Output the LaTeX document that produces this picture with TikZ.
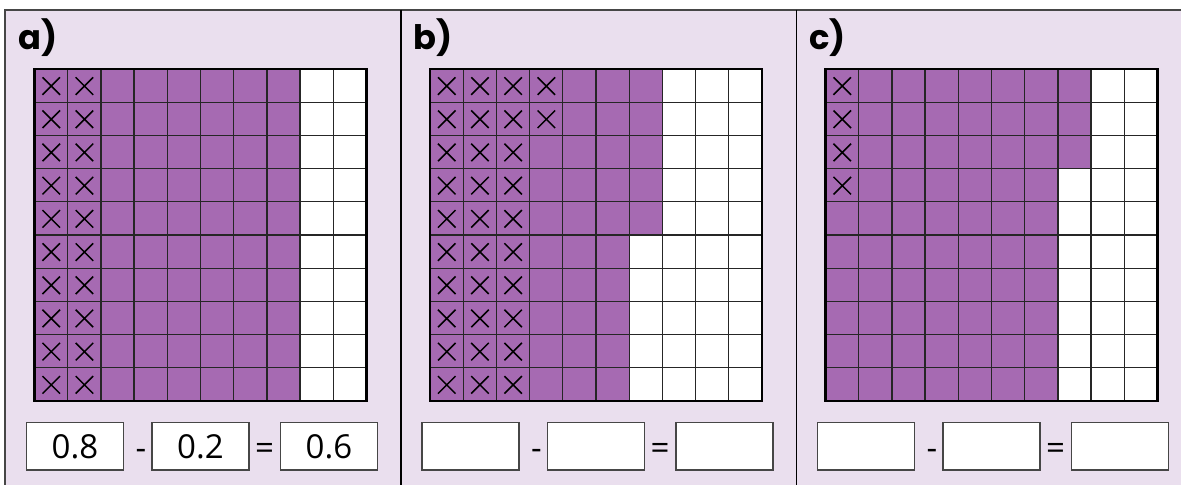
\documentclass[tikz,border=0pt]{standalone}
\usepackage{fontspec}
\setmainfont{Open Sans}
\newfontfamily\partfont{Poppins}
\definecolor{panelbg}{RGB}{234,223,238}
\definecolor{shade}{RGB}{166,106,178}
\definecolor{rule}{RGB}{70,70,70}
\tikzset{
  cell/.style={draw=black!85,line width=0.9pt},
  gridrim/.style={draw=black,line width=1.7pt},
  cross/.style={draw=black,line width=1.1pt},
  ansbox/.style={draw=rule,fill=white,line width=1.1pt,minimum width=2.425cm,minimum height=1.18cm,inner sep=0pt,font=\fontsize{23.5}{26}\selectfont},
  sign/.style={inner sep=0pt,anchor=base,font=\fontsize{23.5}{26}\selectfont},
  partlabel/.style={inner sep=0pt,anchor=base west,font=\partfont\bfseries\fontsize{24}{26}\selectfont}
}
\begin{document}
\begin{tikzpicture}[x=0.025cm,y=-0.025cm]
  \useasboundingbox (0,0) rectangle (1181,485);
  \fill[panelbg] (5,10) rectangle (1181,485);
  \draw[rule,line width=1.1pt] (5,485) -- (5,10) -- (1181,10);
  \draw[black,line width=0.8pt] (401,10) -- (401,485);
  \draw[black,line width=0.8pt] (796.5,10) -- (796.5,485);
  \foreach \p/\name/\fa/\ra/\fb/\ca/\rc/\cb/\first/\second/\diff in
      {0/a/8/10/8/2/10/2/0.8/0.2/0.6, 1/b/7/5/6/4/2/3/{}/{}/{}, 2/c/8/3/7/1/4/0/{}/{}/{}} {
    \pgfmathsetmacro\ox{5+395.5*\p}
    \node[partlabel] (part-\name) at (\ox+13,50) {\name)};
    \foreach \r in {1,...,10} {
      \pgfmathtruncatemacro\nf{\r<=\ra ? \fa : \fb}
      \pgfmathtruncatemacro\nx{\r<=\rc ? \ca : \cb}
      \foreach \c in {1,...,10} {
        \pgfmathsetmacro\cx{\ox+29.5+33.2*(\c-1)}
        \pgfmathsetmacro\cy{69+33.2*(\r-1)}
        \ifnum\c>\nf \def\tone{white}\else \def\tone{shade}\fi
        \draw[cell,fill=\tone] (\cx,\cy) rectangle ++(33.2,33.2);
        \ifnum\c>\nx\else
          \draw[cross] (\cx+8,\cy+8.3) -- ++(17.5,17.5) (\cx+25.5,\cy+8.3) -- ++(-17.5,17.5);
        \fi
      }
    }
    \draw[gridrim] (\ox+29.5,69) rectangle ++(332,332);
    \node[ansbox] (first-\name) at (\ox+70,446.3) {\first};
    \node[sign] (minus-\name) at (\ox+136,459) {-};
    \node[ansbox] (second-\name) at (\ox+195.5,446.3) {\second};
    \node[sign] (equals-\name) at (\ox+259.5,459) {=};
    \node[ansbox] (diff-\name) at (\ox+324,446.3) {\diff};
  }
\end{tikzpicture}
\end{document}
